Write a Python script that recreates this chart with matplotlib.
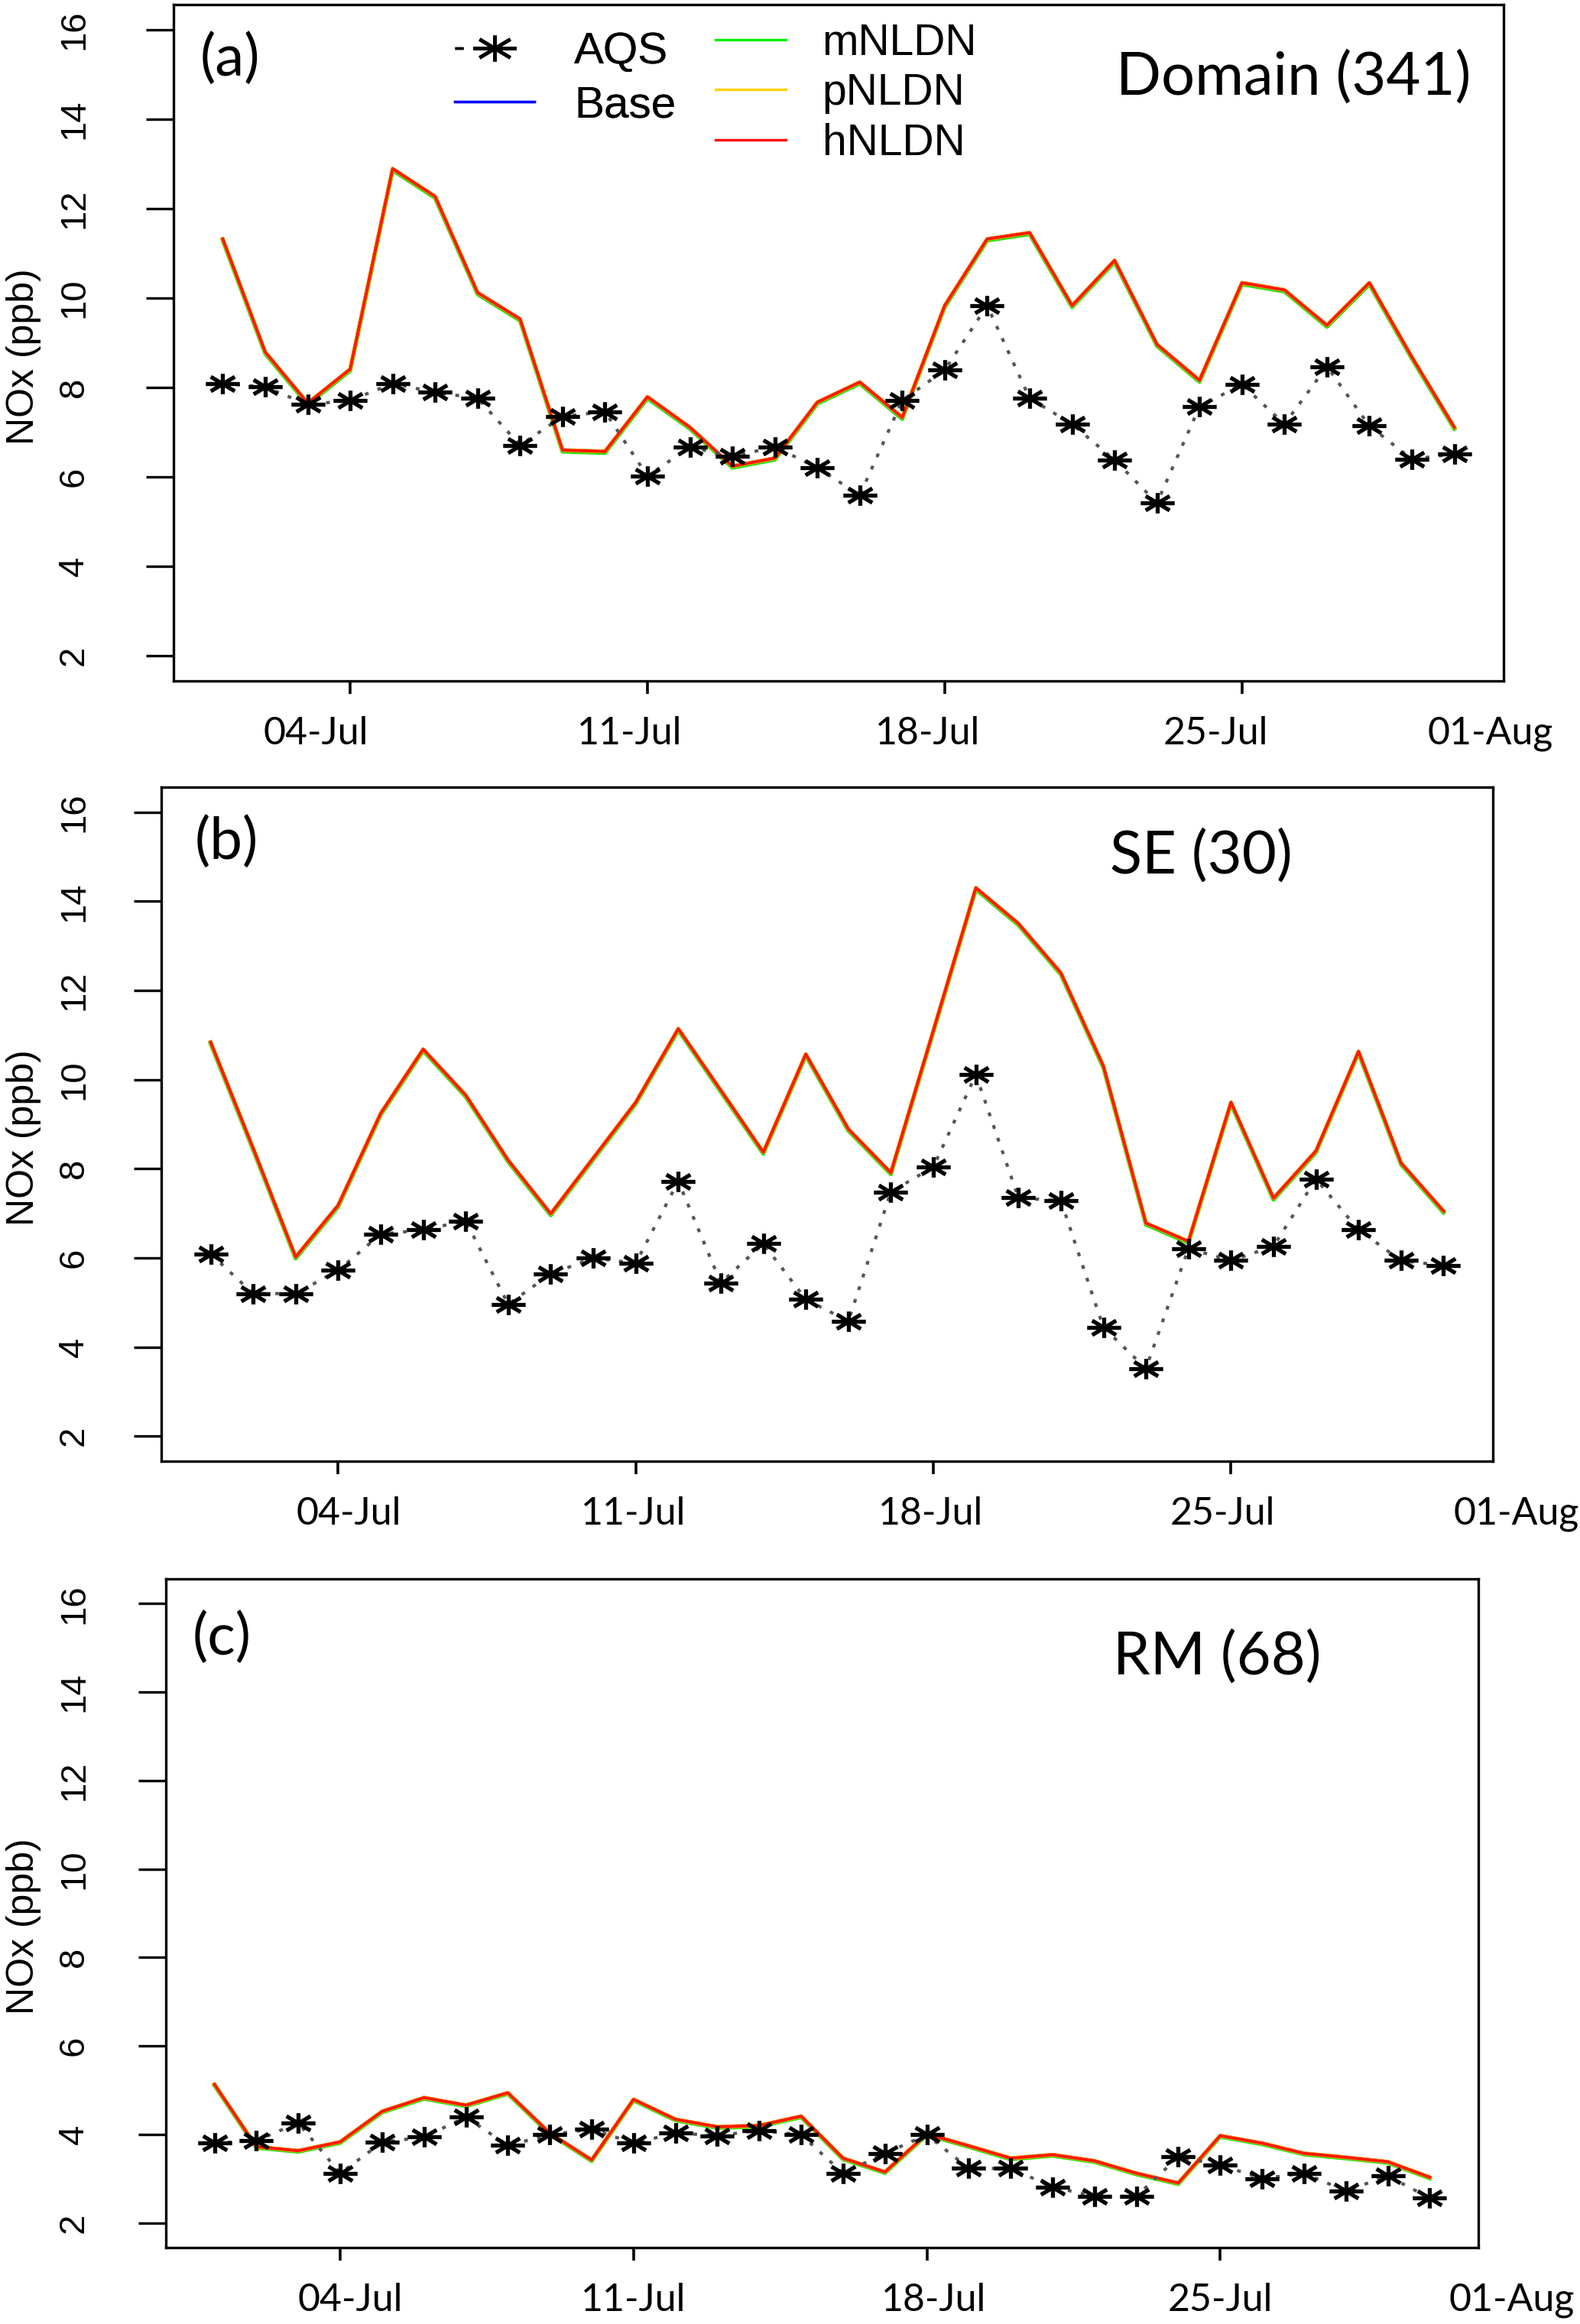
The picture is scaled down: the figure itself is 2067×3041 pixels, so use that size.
import matplotlib
matplotlib.use("Agg")
import matplotlib.pyplot as plt
import matplotlib.path as mpath
from matplotlib.lines import Line2D
from matplotlib.transforms import blended_transform_factory

plt.rcParams['font.family'] = ['Liberation Sans', 'DejaVu Sans']

# days of July 2011 (1 .. 30)
days = list(range(1, 31))

# (a) whole domain, 341 sites
aqs_domain = [8.09, 8.01, 7.62, 7.71, 8.09, 7.89, 7.76, 6.71, 7.35, 7.46,
              6.02, 6.67, 6.46, 6.67, 6.21, 5.59, 7.71, 8.39, 9.83, 7.76,
              7.18, 6.38, 5.42, 7.57, 8.07, 7.18, 8.47, 7.14, 6.40, 6.51]
hnldn_domain = [11.32, 8.79, 7.65, 8.41, 12.89, 12.27, 10.12, 9.53, 6.60, 6.57,
                7.79, 7.11, 6.24, 6.42, 7.67, 8.12, 7.33, 9.83, 11.32, 11.46,
                9.83, 10.84, 8.96, 8.16, 10.34, 10.18, 9.39, 10.34, 8.68, 7.11]
# the other model runs lie under the hNLDN line in the picture
base_domain = list(hnldn_domain)
mnldn_domain = [v - 0.03 for v in hnldn_domain]
pnldn_domain = list(hnldn_domain)

# (b) SE, 30 sites
aqs_se = [6.09, 5.20, 5.20, 5.72, 6.53, 6.63, 6.83, 4.96, 5.64, 6.00,
          5.88, 7.72, 5.44, 6.32, 5.07, 4.58, 7.48, 8.04, 10.11, 7.35,
          7.28, 4.44, 3.52, 6.21, 5.94, 6.26, 7.77, 6.63, 5.94, 5.83]
hnldn_se = [10.84, 8.46, 6.02, 7.18, 9.24, 10.68, 9.65, 8.19, 6.99, 8.24,
            9.49, 11.14, 9.76, 8.37, 10.57, 8.89, 7.91, 11.10, 14.30, 13.50,
            12.39, 10.30, 6.78, 6.37, 9.49, 7.34, 8.40, 10.63, 8.13, 7.05]
base_se = list(hnldn_se)
mnldn_se = [v - 0.03 for v in hnldn_se]
pnldn_se = list(hnldn_se)

# (c) RM, 68 sites
aqs_rm = [3.80, 3.86, 4.26, 3.12, 3.82, 3.94, 4.39, 3.75, 3.99, 4.12,
          3.80, 4.03, 3.97, 4.09, 3.99, 3.12, 3.57, 3.99, 3.23, 3.23,
          2.81, 2.60, 2.60, 3.49, 3.31, 3.00, 3.12, 2.72, 3.06, 2.56]
hnldn_rm = [5.13, 3.72, 3.63, 3.83, 4.52, 4.83, 4.66, 4.94, 4.03, 3.42,
            4.79, 4.34, 4.17, 4.20, 4.41, 3.46, 3.15, 4.01, 3.74, 3.46,
            3.54, 3.40, 3.12, 2.90, 3.97, 3.80, 3.57, 3.48, 3.38, 3.03]
base_rm = list(hnldn_rm)
mnldn_rm = [v - 0.02 for v in hnldn_rm]
pnldn_rm = list(hnldn_rm)

yticks = [2, 4, 6, 8, 10, 12, 14, 16]
date_ticks = [4, 11, 18, 25]
date_labels = ['04-Jul', '11-Jul', '18-Jul', '25-Jul', '01-Aug']

W, H = 2067, 3041
PX = 100 / 72.0
fig = plt.figure(figsize=(W / 100, H / 100), dpi=100)

# R pch=8 asterisk, stretched sideways like in the picture
star = mpath.Path([(-1, 0), (1, 0), (0, -0.6), (0, 0.6),
                   (-0.707, -0.424), (0.707, 0.424), (-0.707, 0.424), (0.707, -0.424)],
                  [1, 2, 1, 2, 1, 2, 1, 2])


def panel(box, aqs, base, mn, pn, hn, tag, region, tag_xy, region_xy, label_x):
    left, bottom, right, top = box
    ax = fig.add_axes([left / W, 1 - bottom / H, (right - left) / W, (bottom - top) / H])
    ax.plot(days, base, color='#0000ff', lw=3.4)
    ax.plot(days, mn, color='#22dd00', lw=4.0)
    ax.plot(days, pn, color='#ffd000', lw=3.7)
    ax.plot(days, hn, color='#ff1a00', lw=2.9)
    ax.plot(days, aqs, color='#555555', lw=3.0, linestyle=(0, (1.2, 3.0)),
            dash_capstyle='butt', marker=star, ms=32, mec='black', mfc='none', mew=3.8)

    ax.set_xlim(1 - 1.16, 30 + 1.16)
    ax.set_ylim(1.44, 16.56)
    ax.set_yticks(yticks)
    ax.set_xticks(date_ticks)
    ax.set_xticklabels([])
    for s in ax.spines.values():
        s.set_linewidth(2.4)

    pad = ((left - 36) - 119) / PX
    ax.tick_params(axis='y', length=26, width=2.4, labelsize=34, pad=pad, labelrotation=90)
    ax.tick_params(axis='x', length=12.5, width=2.6)
    for lab in ax.get_yticklabels():
        lab.set_va('center')

    ax.set_ylabel('NOx (ppb)', fontsize=36, va='center')
    ax.yaxis.set_label_coords((31 - left) / (right - left), 0.48)

    trans = blended_transform_factory(ax.transData, ax.transAxes)
    ylab = -69 / (bottom - top)
    for x, t in zip(label_x, date_labels):
        ax.text(x, ylab, t, transform=trans, ha='center', va='center',
                fontsize=36, family=['Lato', 'DejaVu Sans'], clip_on=False)

    ax.text(*tag_xy, tag, transform=ax.transAxes, ha='center', va='center',
            fontsize=55, family=['Lato', 'DejaVu Sans'])
    ax.text(*region_xy, region, transform=ax.transAxes, ha='center', va='center',
            fontsize=56, family=['Lato', 'DejaVu Sans'])
    return ax


panel((227, 891, 1967, 6), aqs_domain, base_domain, mnldn_domain, pnldn_domain, hnldn_domain,
      '(a)', 'Domain (341)', (0.0425, 0.920), (0.842, 0.892),
      [3.2, 10.57, 17.59, 24.38, 30.85])
panel((211, 1912, 1953, 1030), aqs_se, base_se, mnldn_se, pnldn_se, hnldn_se,
      '(b)', 'SE (30)', (0.049, 0.918), (0.781, 0.897),
      [4.24, 10.95, 17.93, 24.8, 31.71])
panel((217, 2941, 1934, 2066), aqs_rm, base_rm, mnldn_rm, pnldn_rm, hnldn_rm,
      '(c)', 'RM (68)', (0.0425, 0.912), (0.801, 0.882),
      [4.24, 11.0, 18.17, 25.0, 31.95])

# legend, two free-standing columns as in the original
h_aqs = Line2D([], [], color='black', lw=2.5, linestyle=(0, (3.2, 12)),
               marker=star, ms=41, mec='black', mfc='none', mew=3.4)
h_base = Line2D([], [], color='#0000ff', lw=2.4)
h_m = Line2D([], [], color='#00ee00', lw=2.4)
h_p = Line2D([], [], color='#ffd000', lw=2.4)
h_h = Line2D([], [], color='#ff0000', lw=2.4)

leg1 = fig.legend([h_aqs, h_base], ['AQS', 'Base'], loc='upper left',
                  bbox_to_anchor=(595 / W, 1 - 41 / H), frameon=False, fontsize=42,
                  borderpad=0, borderaxespad=0, handlelength=1.79, handletextpad=0.88,
                  labelspacing=0.29, numpoints=1)
leg2 = fig.legend([h_m, h_p, h_h], ['mNLDN', 'pNLDN', 'hNLDN'], loc='upper left',
                  bbox_to_anchor=(936 / W, 1 - 30 / H), frameon=False, fontsize=41,
                  borderpad=0, borderaxespad=0, handlelength=1.61, handletextpad=0.84,
                  labelspacing=0.2)
fig.add_artist(leg1)

fig.savefig('out.png', dpi=100)
